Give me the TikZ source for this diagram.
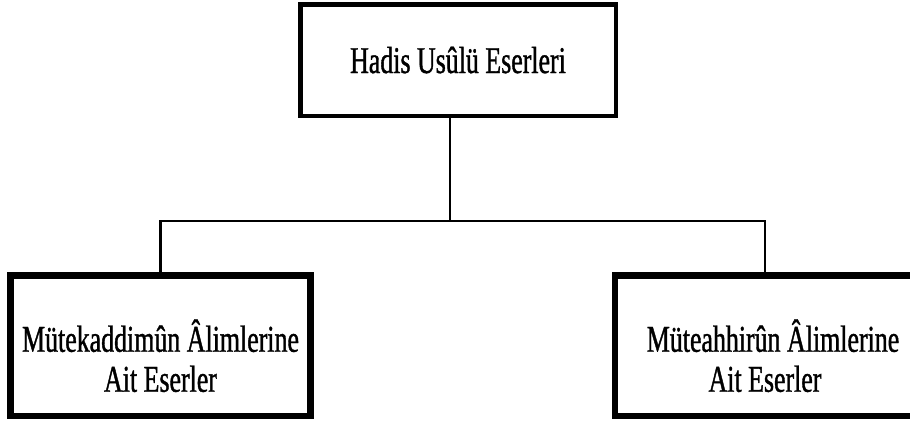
\documentclass[tikz,border=0pt]{standalone}
\usepackage{fontspec}
\setmainfont{Liberation Serif}[FakeStretch=0.685,FakeBold=1]
\usepackage{tikz}

\newcommand{\sublabel}[2]{\raisebox{0pt}[\dimexpr\height+32pt\relax][\depth]{\begin{tabular}{@{}c@{}}#1\\#2\end{tabular}}}

\begin{document}
\begin{tikzpicture}[x=1pt,y=-1pt,
		every node/.style={font=\fontsize{37.8pt}{40pt}\selectfont},
		topbox/.style={draw,line width=4.5pt,minimum width=315.5pt,minimum height=111.5pt,inner sep=0pt,text height=26pt,text depth=0pt},
		subbox/.style={draw,line width=6.5pt,minimum width=300pt,minimum height=140.5pt,inner sep=0pt},
		link/.style={line width=2.2pt}]
		\useasboundingbox (0,0) rectangle (910,421);
		\node [topbox] (usul) at (458,60) {Hadis Usûlü Eserleri};
		\node [subbox] (mutekaddimun) at (160.5,345.5) {\sublabel{Mütekaddimûn Âlimlerine}{Ait Eserler}};
		\node [subbox] (muteahhirun) at (765,345.5) {\sublabel{\hspace*{16pt}Müteahhirûn Âlimlerine}{Ait Eserler}};
		\coordinate (split) at (450,221);
		\draw [link] (usul.south -| split) -- (split);
		\draw [link] (mutekaddimun.north) |- (split) -| (muteahhirun.north);
	\end{tikzpicture}
\end{document}
